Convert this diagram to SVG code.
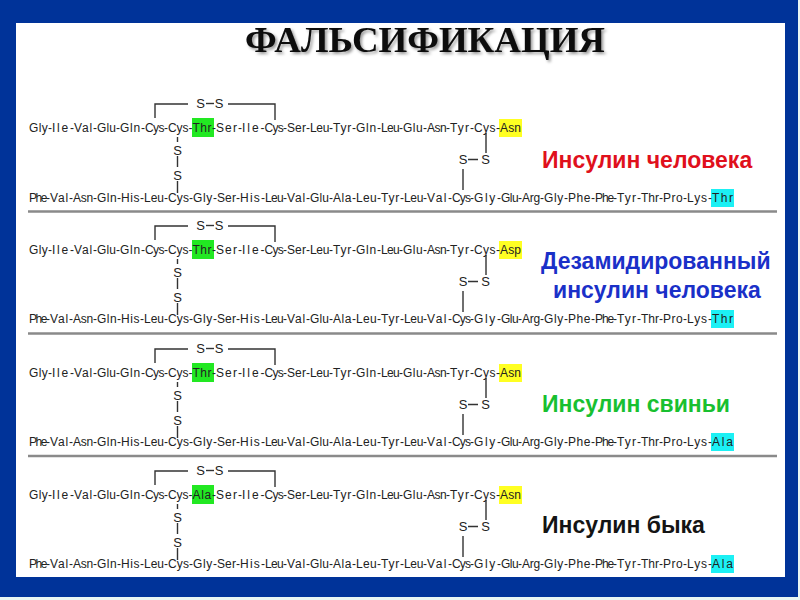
<svg xmlns="http://www.w3.org/2000/svg" xmlns:xlink="http://www.w3.org/1999/xlink" width="800" height="600" viewBox="0 0 800 600">
<style>
.seq{font:12px "Liberation Sans",Arial,sans-serif;fill:#222}
.s{font:13px "Liberation Sans",Arial,sans-serif;fill:#222;text-anchor:middle}
.bond{fill:none;stroke:#333;stroke-width:1.4}
.sep{stroke:#8a8a8a;stroke-width:2.5}
.lab{font:bold 23px "Liberation Sans",Arial,sans-serif}
.title{font:bold 36px "Liberation Serif","Times New Roman",serif;text-anchor:middle;fill:#0a0a0a}
</style>
<defs>
<filter id="sh" x="-5%" y="-20%" width="110%" height="140%"><feDropShadow dx="2" dy="2" stdDeviation="1.5" flood-color="#000" flood-opacity="0.4"/></filter>
<g id="bonds">
<path class="bond" d="M155 118V104H188M228 104H275V120"/>
<path class="bond" d="M177.500 137V142M177.500 156V167M177.500 181V193"/>
<path class="bond" d="M486 133V153M468 159.500H478M463 169V190"/>
<text class="s" x="200.500" y="108">S</text><text class="s" x="219" y="108">S</text>
<path class="bond" d="M206 103.500H214"/>
<text class="s" x="177.500" y="155">S</text><text class="s" x="177.500" y="179.500">S</text>
<text class="s" x="463" y="164">S</text><text class="s" x="485.500" y="164">S</text>
</g>
<g id="bottom-common">
<text class="seq"><tspan x="29" textLength="21">Phe-</tspan><tspan x="50" textLength="23">Val-</tspan><tspan x="73" textLength="24">Asn-</tspan><tspan x="97" textLength="24">Gln-</tspan><tspan x="121" textLength="23">His-</tspan><tspan x="144" textLength="24">Leu-</tspan><tspan x="168" textLength="25">Cys-</tspan><tspan x="193" textLength="24">Gly-</tspan><tspan x="217" textLength="23">Ser-</tspan><tspan x="240" textLength="25">His-</tspan><tspan x="265" textLength="22">Leu-</tspan><tspan x="287" textLength="23">Val-</tspan><tspan x="310" textLength="23">Glu-</tspan><tspan x="333" textLength="23">Ala-</tspan><tspan x="356" textLength="25">Leu-</tspan><tspan x="381" textLength="23">Tyr-</tspan><tspan x="404" textLength="23">Leu-</tspan><tspan x="427" textLength="25">Val-</tspan><tspan x="452" textLength="22">Cys-</tspan><tspan x="474" textLength="27">Gly-</tspan><tspan x="501" textLength="21">Glu-</tspan><tspan x="522" textLength="22">Arg-</tspan><tspan x="544" textLength="24">Gly-</tspan><tspan x="568" textLength="27">Phe-</tspan><tspan x="595" textLength="22">Phe-</tspan><tspan x="617" textLength="24">Tyr-</tspan><tspan x="641" textLength="22">Thr-</tspan><tspan x="663" textLength="24">Pro-</tspan><tspan x="687" textLength="25">Lys-</tspan></text>
</g>
</defs>
<rect width="800" height="600" fill="#e8f6f4"/>
<rect width="798" height="597" fill="#003399"/>
<rect x="16" y="23" width="769" height="554" fill="#fff"/>
<text id="title" class="title" x="425" y="52" textLength="360" lengthAdjust="spacingAndGlyphs" filter="url(#sh)">ФАЛЬСИФИКАЦИЯ</text>

<g id="panel-human">
<rect x="192" y="118" width="22" height="19" fill="#22e822"/><rect x="499" y="119" width="23" height="18" fill="#ffff22"/><rect x="711" y="189" width="23" height="18" fill="#1cf0f4"/>
<use xlink:href="#bonds"/>
<text class="seq" y="132"><tspan x="29" textLength="23">Gly-</tspan><tspan x="52" textLength="22">Ile-</tspan><tspan x="74" textLength="23">Val-</tspan><tspan x="97" textLength="23">Glu-</tspan><tspan x="120" textLength="25">Gln-</tspan><tspan x="145" textLength="23">Cys-</tspan><tspan x="168" textLength="24.500">Cys-</tspan><tspan x="192.500" textLength="23.500">Thr-</tspan><tspan x="216" textLength="26">Ser-</tspan><tspan x="242" textLength="22.500">Ile-</tspan><tspan x="264.500" textLength="22.500">Cys-</tspan><tspan x="287" textLength="23">Ser-</tspan><tspan x="310" textLength="23">Leu-</tspan><tspan x="333" textLength="23">Tyr-</tspan><tspan x="356" textLength="25">Gln-</tspan><tspan x="381" textLength="22">Leu-</tspan><tspan x="403" textLength="24">Glu-</tspan><tspan x="427" textLength="23">Asn-</tspan><tspan x="450" textLength="24">Tyr-</tspan><tspan x="474" textLength="26">Cys-</tspan><tspan x="500" textLength="21">Asn</tspan></text>
<use xlink:href="#bottom-common" y="202"/>
<text class="seq" x="712" y="202" textLength="21">Thr</text>
<text class="lab" x="542" y="168" fill="#e0101c">Инсулин человека</text>
</g>
<line class="sep" x1="28" y1="211.500" x2="777" y2="211.500"/>

<g id="panel-deamidated" transform="translate(0 122)">
<rect x="192" y="118" width="22" height="19" fill="#22e822"/><rect x="499" y="119" width="23" height="18" fill="#ffff22"/><rect x="711" y="188" width="23" height="18" fill="#1cf0f4"/>
<use xlink:href="#bonds"/>
<text class="seq" y="132"><tspan x="29" textLength="23">Gly-</tspan><tspan x="52" textLength="22">Ile-</tspan><tspan x="74" textLength="23">Val-</tspan><tspan x="97" textLength="23">Glu-</tspan><tspan x="120" textLength="25">Gln-</tspan><tspan x="145" textLength="23">Cys-</tspan><tspan x="168" textLength="24.500">Cys-</tspan><tspan x="192.500" textLength="23.500">Thr-</tspan><tspan x="216" textLength="26">Ser-</tspan><tspan x="242" textLength="22.500">Ile-</tspan><tspan x="264.500" textLength="22.500">Cys-</tspan><tspan x="287" textLength="23">Ser-</tspan><tspan x="310" textLength="23">Leu-</tspan><tspan x="333" textLength="23">Tyr-</tspan><tspan x="356" textLength="25">Gln-</tspan><tspan x="381" textLength="22">Leu-</tspan><tspan x="403" textLength="24">Glu-</tspan><tspan x="427" textLength="23">Asn-</tspan><tspan x="450" textLength="24">Tyr-</tspan><tspan x="474" textLength="26">Cys-</tspan><tspan x="500" textLength="21">Asp</tspan></text>
<use xlink:href="#bottom-common" y="201"/>
<text class="seq" x="712" y="201" textLength="21">Thr</text>
<text class="lab" x="541" y="147" fill="#1a30c8">Дезамидированный</text>
<text class="lab" x="553" y="176" fill="#1a30c8">инсулин человека</text>
</g>
<line class="sep" x1="28" y1="333.500" x2="777" y2="333.500"/>

<g id="panel-pig" transform="translate(0 245)">
<rect x="192" y="118" width="22" height="19" fill="#22e822"/><rect x="499" y="119" width="23" height="18" fill="#ffff22"/><rect x="711" y="188" width="23" height="18" fill="#1cf0f4"/>
<use xlink:href="#bonds"/>
<text class="seq" y="132"><tspan x="29" textLength="23">Gly-</tspan><tspan x="52" textLength="22">Ile-</tspan><tspan x="74" textLength="23">Val-</tspan><tspan x="97" textLength="23">Glu-</tspan><tspan x="120" textLength="25">Gln-</tspan><tspan x="145" textLength="23">Cys-</tspan><tspan x="168" textLength="24.500">Cys-</tspan><tspan x="192.500" textLength="23.500">Thr-</tspan><tspan x="216" textLength="26">Ser-</tspan><tspan x="242" textLength="22.500">Ile-</tspan><tspan x="264.500" textLength="22.500">Cys-</tspan><tspan x="287" textLength="23">Ser-</tspan><tspan x="310" textLength="23">Leu-</tspan><tspan x="333" textLength="23">Tyr-</tspan><tspan x="356" textLength="25">Gln-</tspan><tspan x="381" textLength="22">Leu-</tspan><tspan x="403" textLength="24">Glu-</tspan><tspan x="427" textLength="23">Asn-</tspan><tspan x="450" textLength="24">Tyr-</tspan><tspan x="474" textLength="26">Cys-</tspan><tspan x="500" textLength="21">Asn</tspan></text>
<use xlink:href="#bottom-common" y="201"/>
<text class="seq" x="712" y="201" textLength="21">Ala</text>
<text class="lab" x="542" y="167" fill="#18c030">Инсулин свиньи</text>
</g>
<line class="sep" x1="28" y1="456" x2="777" y2="456"/>

<g id="panel-bull" transform="translate(0 367)">
<rect x="192" y="118" width="22" height="19" fill="#22e822"/><rect x="499" y="119" width="23" height="18" fill="#ffff22"/><rect x="711" y="188" width="23" height="18" fill="#1cf0f4"/>
<use xlink:href="#bonds"/>
<text class="seq" y="132"><tspan x="29" textLength="23">Gly-</tspan><tspan x="52" textLength="22">Ile-</tspan><tspan x="74" textLength="23">Val-</tspan><tspan x="97" textLength="23">Glu-</tspan><tspan x="120" textLength="25">Gln-</tspan><tspan x="145" textLength="23">Cys-</tspan><tspan x="168" textLength="24.500">Cys-</tspan><tspan x="192.500" textLength="23.500">Ala-</tspan><tspan x="216" textLength="26">Ser-</tspan><tspan x="242" textLength="22.500">Ile-</tspan><tspan x="264.500" textLength="22.500">Cys-</tspan><tspan x="287" textLength="23">Ser-</tspan><tspan x="310" textLength="23">Leu-</tspan><tspan x="333" textLength="23">Tyr-</tspan><tspan x="356" textLength="25">Gln-</tspan><tspan x="381" textLength="22">Leu-</tspan><tspan x="403" textLength="24">Glu-</tspan><tspan x="427" textLength="23">Asn-</tspan><tspan x="450" textLength="24">Tyr-</tspan><tspan x="474" textLength="26">Cys-</tspan><tspan x="500" textLength="21">Asn</tspan></text>
<use xlink:href="#bottom-common" y="201"/>
<text class="seq" x="712" y="201" textLength="21">Ala</text>
<text class="lab" x="542" y="166" fill="#141414">Инсулин быка</text>
</g>
</svg>
